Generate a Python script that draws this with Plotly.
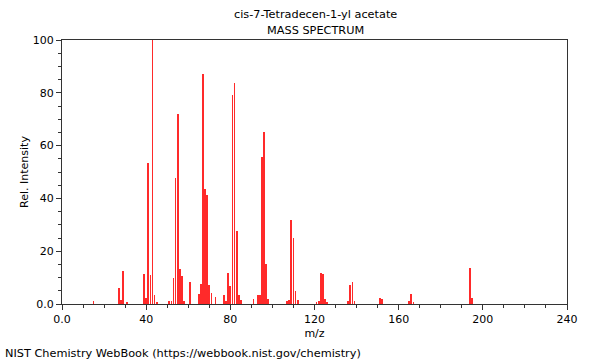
import plotly.graph_objects as go

# m/z values and relative intensities
mz = [15, 27, 28, 29, 31, 39, 40, 41, 42, 43, 44, 45,
      51, 52, 53, 54, 55, 56, 57, 58, 61,
      65, 66, 67, 68, 69, 70, 71, 73,
      77, 78, 79, 80, 81, 82, 83, 84, 85,
      91, 93, 94, 95, 96, 97, 98,
      107, 108, 109, 110, 111, 112,
      121, 122, 123, 124, 125, 126,
      136, 137, 138, 139,
      151, 152, 165, 166, 167, 194, 195]
intensity = [1.0, 6.2, 1.5, 12.6, 0.5, 11.2, 2.4, 53.4, 11.1, 100.0, 3.4, 0.9,
             1.0, 1.0, 10.0, 47.9, 72.0, 13.1, 10.5, 1.0, 8.2,
             3.7, 7.6, 87.2, 43.5, 41.4, 7.3, 4.1, 2.7,
             3.4, 1.0, 11.8, 6.9, 79.0, 83.7, 27.5, 3.4, 1.5,
             1.9, 3.4, 3.4, 55.8, 65.0, 15.0, 2.0,
             1.1, 1.5, 32.0, 25.0, 5.0, 1.5,
             0.5, 1.0, 11.6, 11.4, 1.8, 0.5,
             1.0, 7.2, 8.3, 1.0,
             2.2, 2.0, 1.0, 3.8, 0.6, 13.8, 2.3]

x_ticks = [0, 40, 80, 120, 160, 200, 240]
x_labels = ["0.0", "40", "80", "120", "160", "200", "240"]
y_ticks = [0, 20, 40, 60, 80, 100]
y_labels = ["0.0", "20", "40", "60", "80", "100"]

title_line1 = "cis-7-Tetradecen-1-yl acetate"
title_line2 = "MASS SPECTRUM"
footer = "NIST Chemistry WebBook (https://webbook.nist.gov/chemistry)"

fig = go.Figure()
fig.add_trace(go.Bar(x=mz, y=intensity, width=0.35,
                     marker=dict(color="#ff2a2a", line=dict(width=0))))

font = dict(family="DejaVu Sans", size=11, color="#000000")
ann_font = dict(family="DejaVu Sans", size=11.3, color="#000000")
axis_common = dict(showgrid=False, zeroline=False, showline=True, linecolor="#333333",
                   linewidth=1, mirror=True, ticks="outside", ticklen=5,
                   tickcolor="#333333", tickfont=font)

L, R, T, B = 62, 33, 40, 56
fig.update_layout(
    width=600, height=360,
    margin=dict(l=L, r=R, t=T, b=B),
    paper_bgcolor="white", plot_bgcolor="white",
    showlegend=False, bargap=0,
    font=font,
    xaxis=dict(range=[0, 240], tickvals=x_ticks, ticktext=x_labels,
               title=dict(text="m/z", font=font, standoff=4),
               minor=dict(dtick=10, ticklen=3, ticks="outside", tickcolor="#333333"),
               **axis_common),
    yaxis=dict(range=[0, 100], tickvals=y_ticks, ticktext=y_labels,
               title=dict(text="Rel. Intensity", font=font, standoff=1),
               minor=dict(dtick=5, ticklen=3, ticks="outside", tickcolor="#333333"),
               **axis_common),
)

pw, ph = 600 - L - R, 360 - T - B


def pix(px, py):
    return (px - L) / pw, (360 - B - py) / ph


texts = [(title_line1, 315, 14, "center"),
         (title_line2, 315, 30, "center"),
         (footer, 3, 353, "left")]
for txt, px, py, anchor in texts:
    ax, ay = pix(px, py)
    fig.add_annotation(text=txt, x=ax, y=ay, xref="paper", yref="paper",
                       showarrow=False, font=ann_font, xanchor=anchor, yanchor="middle")

fig.write_html("out.html", config={"displayModeBar": False},
               post_script="document.body.style.margin='0px';document.body.style.overflow='hidden';")
